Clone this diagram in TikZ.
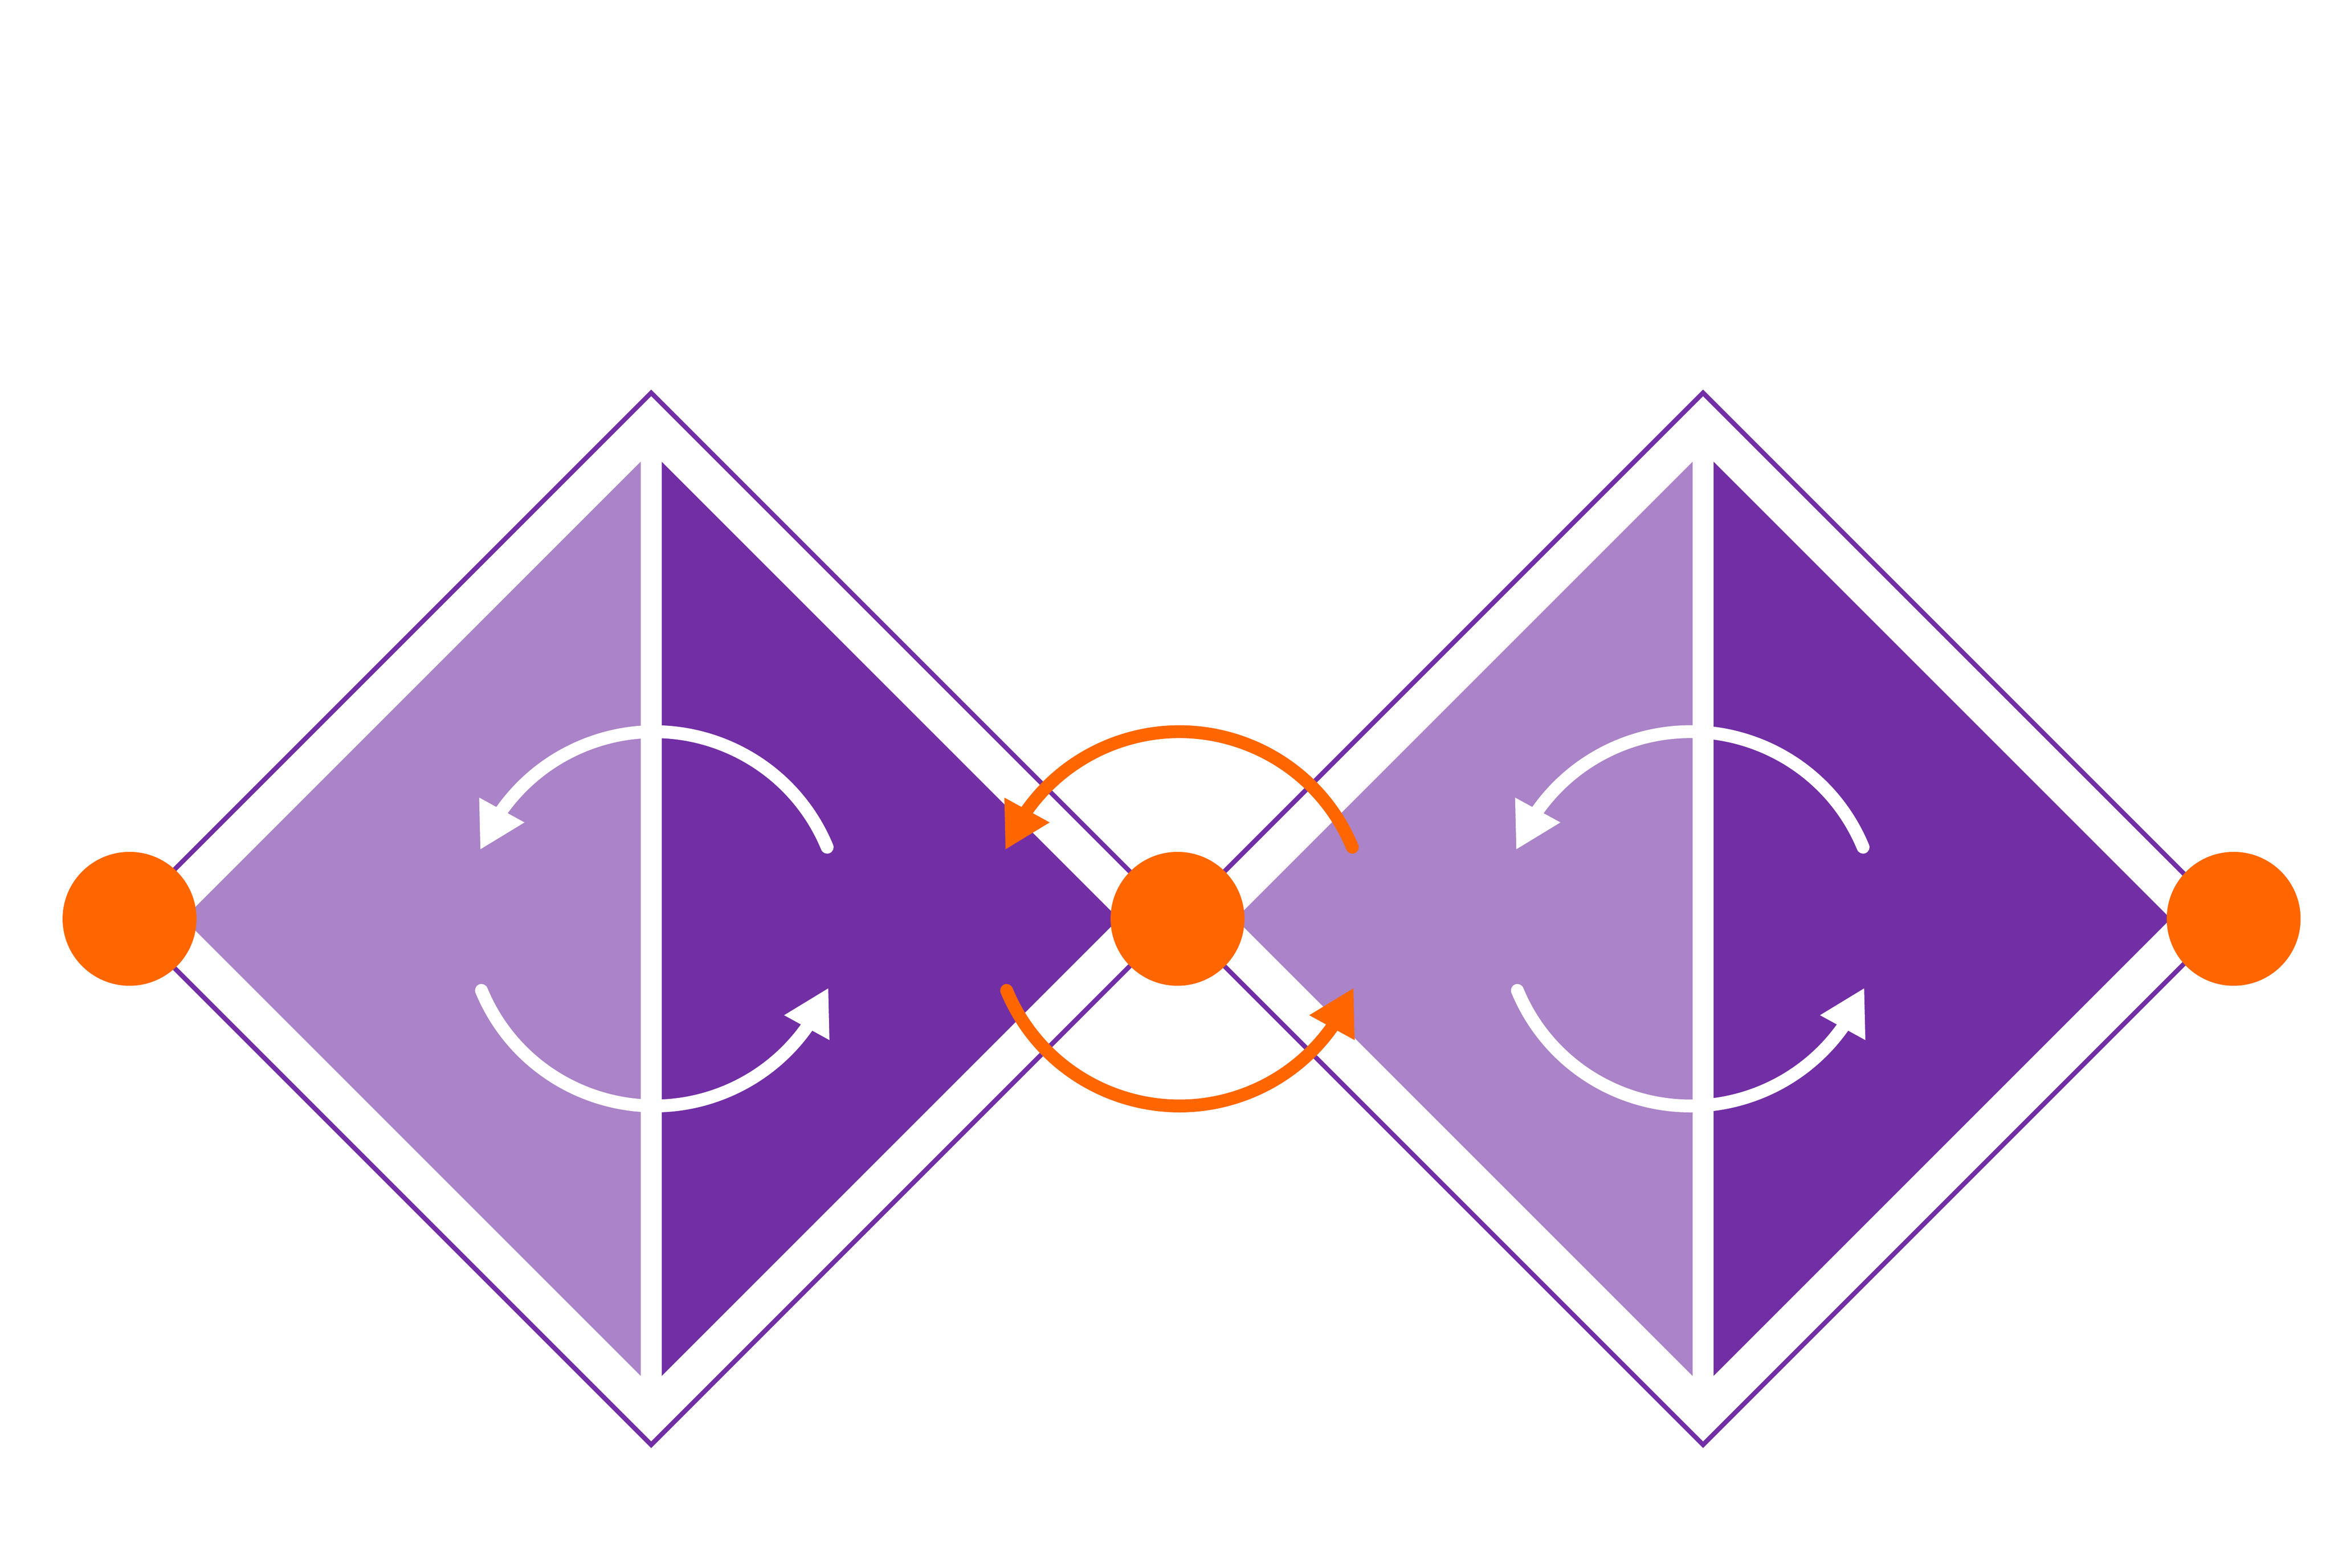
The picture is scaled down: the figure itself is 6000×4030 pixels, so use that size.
\documentclass[tikz,border=0pt]{standalone}
\definecolor{lightpurple}{HTML}{AA83C8}
\definecolor{darkpurple}{HTML}{722EA5}
\definecolor{dotorange}{HTML}{FF6600}
\tikzset{
  outline/.style={draw=darkpurple,line width=3.4pt,line join=miter},
  dot/.style={circle,fill=dotorange,draw=none,inner sep=0pt,minimum size=3.44cm},
  cyclearc/.style={line width=9.4pt,line cap=round},
  halfdiamond/.pic={
    \fill[lightpurple] (-27,1175) -- (-27,-1175) -- (-1202,0) -- cycle;
    \fill[darkpurple] (27,1175) -- (27,-1175) -- (1202,0) -- cycle;
    \draw[outline] (0,1352) -- (1352,0) -- (0,-1352) -- (-1352,0) -- cycle;
  },
  cyclearrows/.pic={
    \draw[cyclearc,draw=#1] (22.5:481) arc[start angle=22.5,end angle=145,radius=481];
    \fill[#1] (158.2:481.5) -- (145.3:547.6) -- (143.4:415.6) -- cycle;
    \draw[cyclearc,draw=#1] (202.5:481) arc[start angle=202.5,end angle=325,radius=481];
    \fill[#1] (338.2:481.5) -- (325.3:547.6) -- (323.4:415.6) -- cycle;
  }
}
\begin{document}
\begin{tikzpicture}[x=0.01cm,y=0.01cm]
\useasboundingbox[fill=white] (0,0) rectangle (6000,4030);
\pic at (1674,1668) {halfdiamond};
\pic at (4378,1668) {halfdiamond};
\pic at (1682,1668) {cyclearrows=white};
\pic at (4345,1668) {cyclearrows=white};
\pic at (3032,1668) {cyclearrows=dotorange};
\node[dot] (dotL) at (333,1668) {};
\node[dot] (dotM) at (3027,1668) {};
\node[dot] (dotR) at (5742,1668) {};
\end{tikzpicture}
\end{document}
